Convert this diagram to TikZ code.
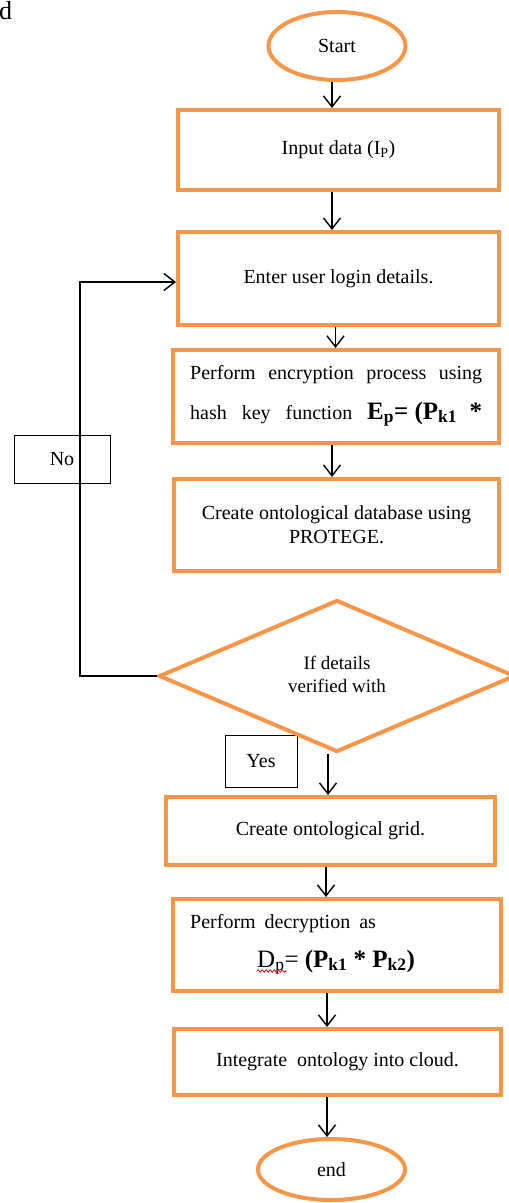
\documentclass[tikz,border=0pt]{standalone}
\usepackage{fontspec}
\setmainfont{Liberation Serif}
\usetikzlibrary{shapes.geometric,arrows.meta,decorations.pathmorphing}
\definecolor{flowor}{HTML}{F79646}
\begin{document}
\begin{tikzpicture}[x=1pt,y=-1pt,
  txt/.style={font=\fontsize{20}{24}\selectfont},
  proc/.style={draw=flowor, line width=4pt, fill=white, rectangle, inner sep=0pt, txt, align=center},
  term/.style={draw=flowor, line width=4pt, fill=white, ellipse, inner sep=0pt, txt},
  arr/.style={draw=black, line width=1.4pt, -{Straight Barb[length=11pt,width=17pt,line width=1.4pt]}},
  lblbox/.style={draw=black, line width=0.9pt, rectangle, inner sep=0pt, txt},
  squig/.style={draw=red, line width=0.8pt, decorate, decoration={snake, amplitude=1.2pt, segment length=4pt}}
]
\useasboundingbox (0,0) rectangle (509,1203);

% stray letter in the top-left corner
\node[anchor=base west, font=\fontsize{26}{30}\selectfont, inner sep=0pt] (mark) at (-1,19) {d};

% terminals and process steps
\node[term, minimum width=137pt, minimum height=68pt] (start) at (337,46) {Start};
\node[proc, minimum width=321pt, minimum height=80pt] (input) at (338.5,150) {Input data (I\textsubscript{P})};
\node[proc, minimum width=321pt, minimum height=93pt] (login) at (338.5,278.5) {Enter user login details.};

\node[proc, minimum width=326pt, minimum height=93pt] (enc) at (336,396.5) {};
\node[anchor=base west, txt, inner sep=0pt] (enc1) at (190,379)
  {\hbox to 292pt{Perform\hfill encryption\hfill process\hfill using}};
\node[anchor=base west, txt, inner sep=0pt] (enc2) at (190,419)
  {\hbox to 292pt{hash\hfill key\hfill function\hfill {\fontsize{25}{28}\selectfont\bfseries E\textsubscript{p}= (P\textsubscript{k1}\hspace{0.5em}*}}};

\node[proc, minimum width=325pt, minimum height=92pt] (db) at (336.5,525) {Create ontological database using\\PROTEGE.};

% labels of the decision branches
\node[lblbox, minimum width=96pt, minimum height=48pt] (no) at (62,459) {No};
\node[lblbox, minimum width=72pt, minimum height=52pt] (yes) at (261,761) {Yes};

% decision
\node[diamond, draw=flowor, line width=4pt, fill=white, aspect=2.3, inner sep=0pt,
      minimum width=356pt, minimum height=152pt] (check) at (337,676) {};
\node[align=center, inner sep=0pt, font=\fontsize{19}{23}\selectfont] (checktxt) at (337,674) {If details\\verified with};

\node[proc, minimum width=329pt, minimum height=68pt] (grid) at (330.5,831) {Create ontological grid.};

\node[proc, minimum width=328pt, minimum height=92pt] (dec) at (337,945) {};
\node[anchor=base west, txt, inner sep=0pt] (dec1) at (190,928) {Perform\hspace{0.45em}decryption\hspace{0.45em}as};
\node[anchor=base west, inner sep=0pt, font=\fontsize{25}{28}\selectfont] (dec2) at (257,967)
  {D\textsubscript{p}= \textbf{(P\textsubscript{k1} * P\textsubscript{k2})}};
\draw[squig] ([yshift=-4pt]dec2.base west) -- ++(30,0);

\node[proc, minimum width=327pt, minimum height=66pt] (integ) at (337.5,1062) {Integrate\hspace{0.5em}ontology into cloud.};
\node[term, minimum width=147pt, minimum height=61pt] (end) at (331.5,1169.5) {end};

% main flow
\draw[arr] ([xshift=-5pt]start.south) -- ([xshift=-5pt]start.south |- input.north);
\draw[arr] ([xshift=-6.5pt]input.south) -- ([xshift=-6.5pt]input.south |- login.north);
\draw[arr] ([xshift=-3pt]login.south) -- ([xshift=-3pt]login.south |- enc.north);
\draw[arr] ([xshift=-4pt]enc.south) -- ([xshift=-4pt]enc.south |- db.north);
\draw[arr] ([xshift=-9pt]check.south) -- ([xshift=-9pt]check.south |- grid.north);
\draw[arr] ([xshift=-4.5pt]grid.south) -- ([xshift=-4.5pt]grid.south |- dec.north);
\draw[arr] ([xshift=-10pt]dec.south) -- ([xshift=-10pt]dec.south |- integ.north);
\draw[arr] ([xshift=-10.5pt]integ.south) -- ([xshift=-10.5pt]integ.south |- end.north);

% "No" branch back to the login step
\coordinate (loopc) at (80,282);
\draw[arr] (check.west) -| (loopc) -- (loopc -| login.west);
\end{tikzpicture}
\end{document}
